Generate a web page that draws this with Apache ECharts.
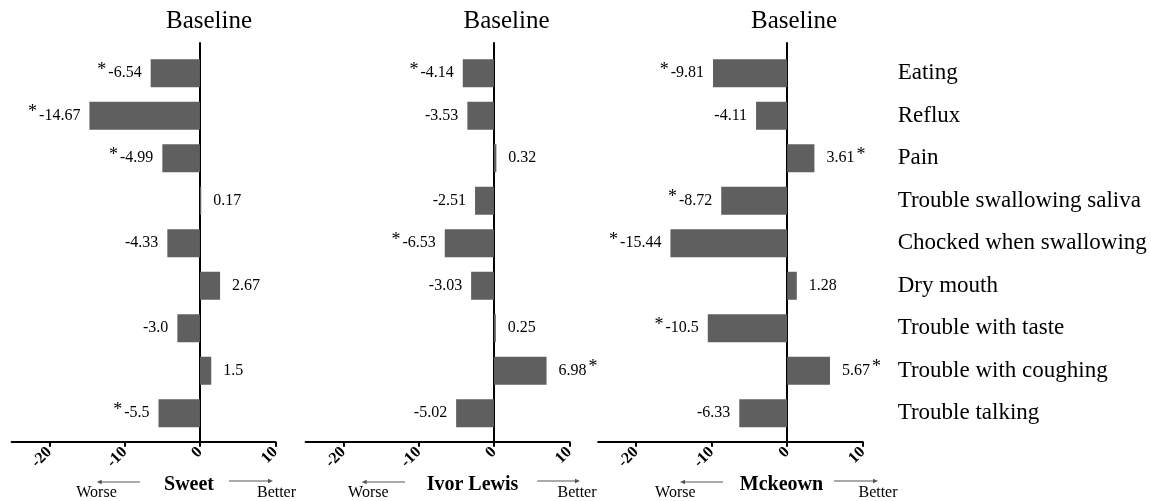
<!DOCTYPE html>
<html><head><meta charset="utf-8">
<script src="https://cdn.jsdelivr.net/npm/echarts@6/dist/echarts.min.js"></script>
<style>html,body{margin:0;padding:0;background:#fff}#c{width:1151px;height:501px}</style>
</head><body><div id="c"></div>
<script>
// ---- data ----
const categories = ['Eating','Reflux','Pain','Trouble swallowing saliva','Chocked when swallowing','Dry mouth','Trouble with taste','Trouble with coughing','Trouble talking'];
const panelNames = ['Sweet','Ivor Lewis','Mckeown'];
const panelTitle = 'Baseline';
const sweetValues = [-6.54,-14.67,-4.99,0.17,-4.33,2.67,-3.0,1.5,-5.5];
const ivorLewisValues = [-4.14,-3.53,0.32,-2.51,-6.53,-3.03,0.25,6.98,-5.02];
const mckeownValues = [-9.81,-4.11,3.61,-8.72,-15.44,1.28,-10.5,5.67,-6.33];
const sweetSig = [1,1,1,0,0,0,0,0,1];
const ivorLewisSig = [1,0,0,0,1,0,0,1,0];
const mckeownSig = [1,0,1,1,1,0,1,1,0];
const xTicks = [-20,-10,0,10];
const xMin = -25, xMax = 10;
const worseLabel = 'Worse', betterLabel = 'Better';

// ---- layout ----
const FONT = '"Liberation Serif","Times New Roman",serif';
const W = 1151;
const panels = [
  {values: sweetValues, sig: sweetSig, left: 11.6, rightEdge: 275.3, titleX: 209, nameX: 189, worseX: 96.5, betterX: 276.5, la: [140, 96.7], ra: [229, 273]},
  {values: ivorLewisValues, sig: ivorLewisSig, left: 305.6, rightEdge: 569.3, titleX: 506.5, nameX: 472.5, worseX: 368.3, betterX: 577, la: [405, 361.7], ra: [537.3, 580]},
  {values: mckeownValues, sig: mckeownSig, left: 598.2, rightEdge: 862.7, titleX: 794, nameX: 781.5, worseX: 675.3, betterX: 878, la: [723, 680], ra: [834, 878]}
];

function fmt(v) {
  return Math.abs(Math.round(v * 10) - v * 10) < 1e-9 ? v.toFixed(1) : v.toFixed(2);
}

const grid = [], xAxis = [], yAxis = [], series = [], graphic = [];
panels.forEach((p, i) => {
  const right = W - p.rightEdge;
  grid.push({left: p.left, right: right, top: 43, bottom: 59.3});
  grid.push({left: p.left, right: right, top: 52, bottom: 66.5});
  const gA = 2 * i, gB = 2 * i + 1;
  xAxis.push({
    type: 'value', gridIndex: gA, min: xMin, max: xMax, position: 'bottom',
    axisLine: {show: true, onZero: false, lineStyle: {color: '#000', width: 2}},
    axisTick: {show: true, length: 5, lineStyle: {color: '#000', width: 2}, customValues: xTicks},
    axisLabel: {rotate: 45, margin: 8, fontFamily: FONT, fontWeight: 'bold', fontSize: 16, color: '#000', customValues: xTicks},
    splitLine: {show: false}
  });
  yAxis.push({
    type: 'value', gridIndex: gA, min: 0, max: 1,
    axisLine: {show: true, onZero: true, lineStyle: {color: '#000', width: 2}},
    axisTick: {show: false}, axisLabel: {show: false}, splitLine: {show: false}
  });
  xAxis.push({type: 'value', gridIndex: gB, min: xMin, max: xMax, show: false, splitLine: {show: false}});
  yAxis.push({
    type: 'category', gridIndex: gB, data: categories, inverse: true, position: 'right',
    show: i === 2,
    axisLine: {show: false, onZero: false}, axisTick: {show: false},
    axisLabel: {show: i === 2, margin: 35, fontFamily: FONT, fontSize: 23, color: '#000', align: 'left'},
    splitLine: {show: false}
  });
  series.push({
    type: 'bar', xAxisIndex: 2 * i + 1, yAxisIndex: 2 * i + 1,
    barWidth: 28, itemStyle: {color: '#5f5f5f'},
    data: p.values.map(v => ({
      value: v,
      label: {position: v < 0 ? 'left' : 'right', distance: v < 0 ? 9 : 12}
    })),
    label: {
      show: true, fontFamily: FONT, color: '#000',
      formatter: (prm) => {
        const v = prm.value, t = fmt(v);
        if (!p.sig[prm.dataIndex]) return '{v|' + t + '}';
        return v < 0 ? '{s|*}{v|' + t + '}' : '{v|' + t + '}{s|*}';
      },
      rich: {
        v: {fontFamily: FONT, fontSize: 16, lineHeight: 24, color: '#000'},
        s: {fontFamily: FONT, fontSize: 18, lineHeight: 16, verticalAlign: 'top', color: '#000', padding: [0, 2, 0, 2]}
      }
    }
  });
  graphic.push({type: 'text', x: p.titleX, y: 21.7, style: {text: panelTitle, font: '25px ' + FONT, fill: '#000', textAlign: 'center', textVerticalAlign: 'middle'}});
  graphic.push({type: 'text', x: p.nameX, y: 485, style: {text: panelNames[i], font: 'bold 20px ' + FONT, fill: '#000', textAlign: 'center', textVerticalAlign: 'middle'}});
  graphic.push({type: 'text', x: p.worseX, y: 493, style: {text: worseLabel, font: '16px ' + FONT, fill: '#000', textAlign: 'center', textVerticalAlign: 'middle'}});
  graphic.push({type: 'text', x: p.betterX, y: 493, style: {text: betterLabel, font: '16px ' + FONT, fill: '#000', textAlign: 'center', textVerticalAlign: 'middle'}});
  const ay = 482;
  graphic.push({type: 'line', shape: {x1: p.la[0], y1: ay, x2: p.la[1] + 3, y2: ay}, style: {stroke: '#555', lineWidth: 1}});
  graphic.push({type: 'polygon', shape: {points: [[p.la[1], ay], [p.la[1] + 5, ay - 2.2], [p.la[1] + 5, ay + 2.2]]}, style: {fill: '#555'}});
  graphic.push({type: 'line', shape: {x1: p.ra[0], y1: ay - 1, x2: p.ra[1] - 3, y2: ay - 1}, style: {stroke: '#555', lineWidth: 1}});
  graphic.push({type: 'polygon', shape: {points: [[p.ra[1], ay - 1], [p.ra[1] - 5, ay - 3.2], [p.ra[1] - 5, ay + 1.2]]}, style: {fill: '#555'}});
});

const chart = echarts.init(document.getElementById('c'), null, {renderer: 'canvas'});
chart.setOption({
  animation: false,
  backgroundColor: '#fff',
  textStyle: {fontFamily: FONT},
  grid, xAxis, yAxis, series, graphic
});
</script>
</body></html>
